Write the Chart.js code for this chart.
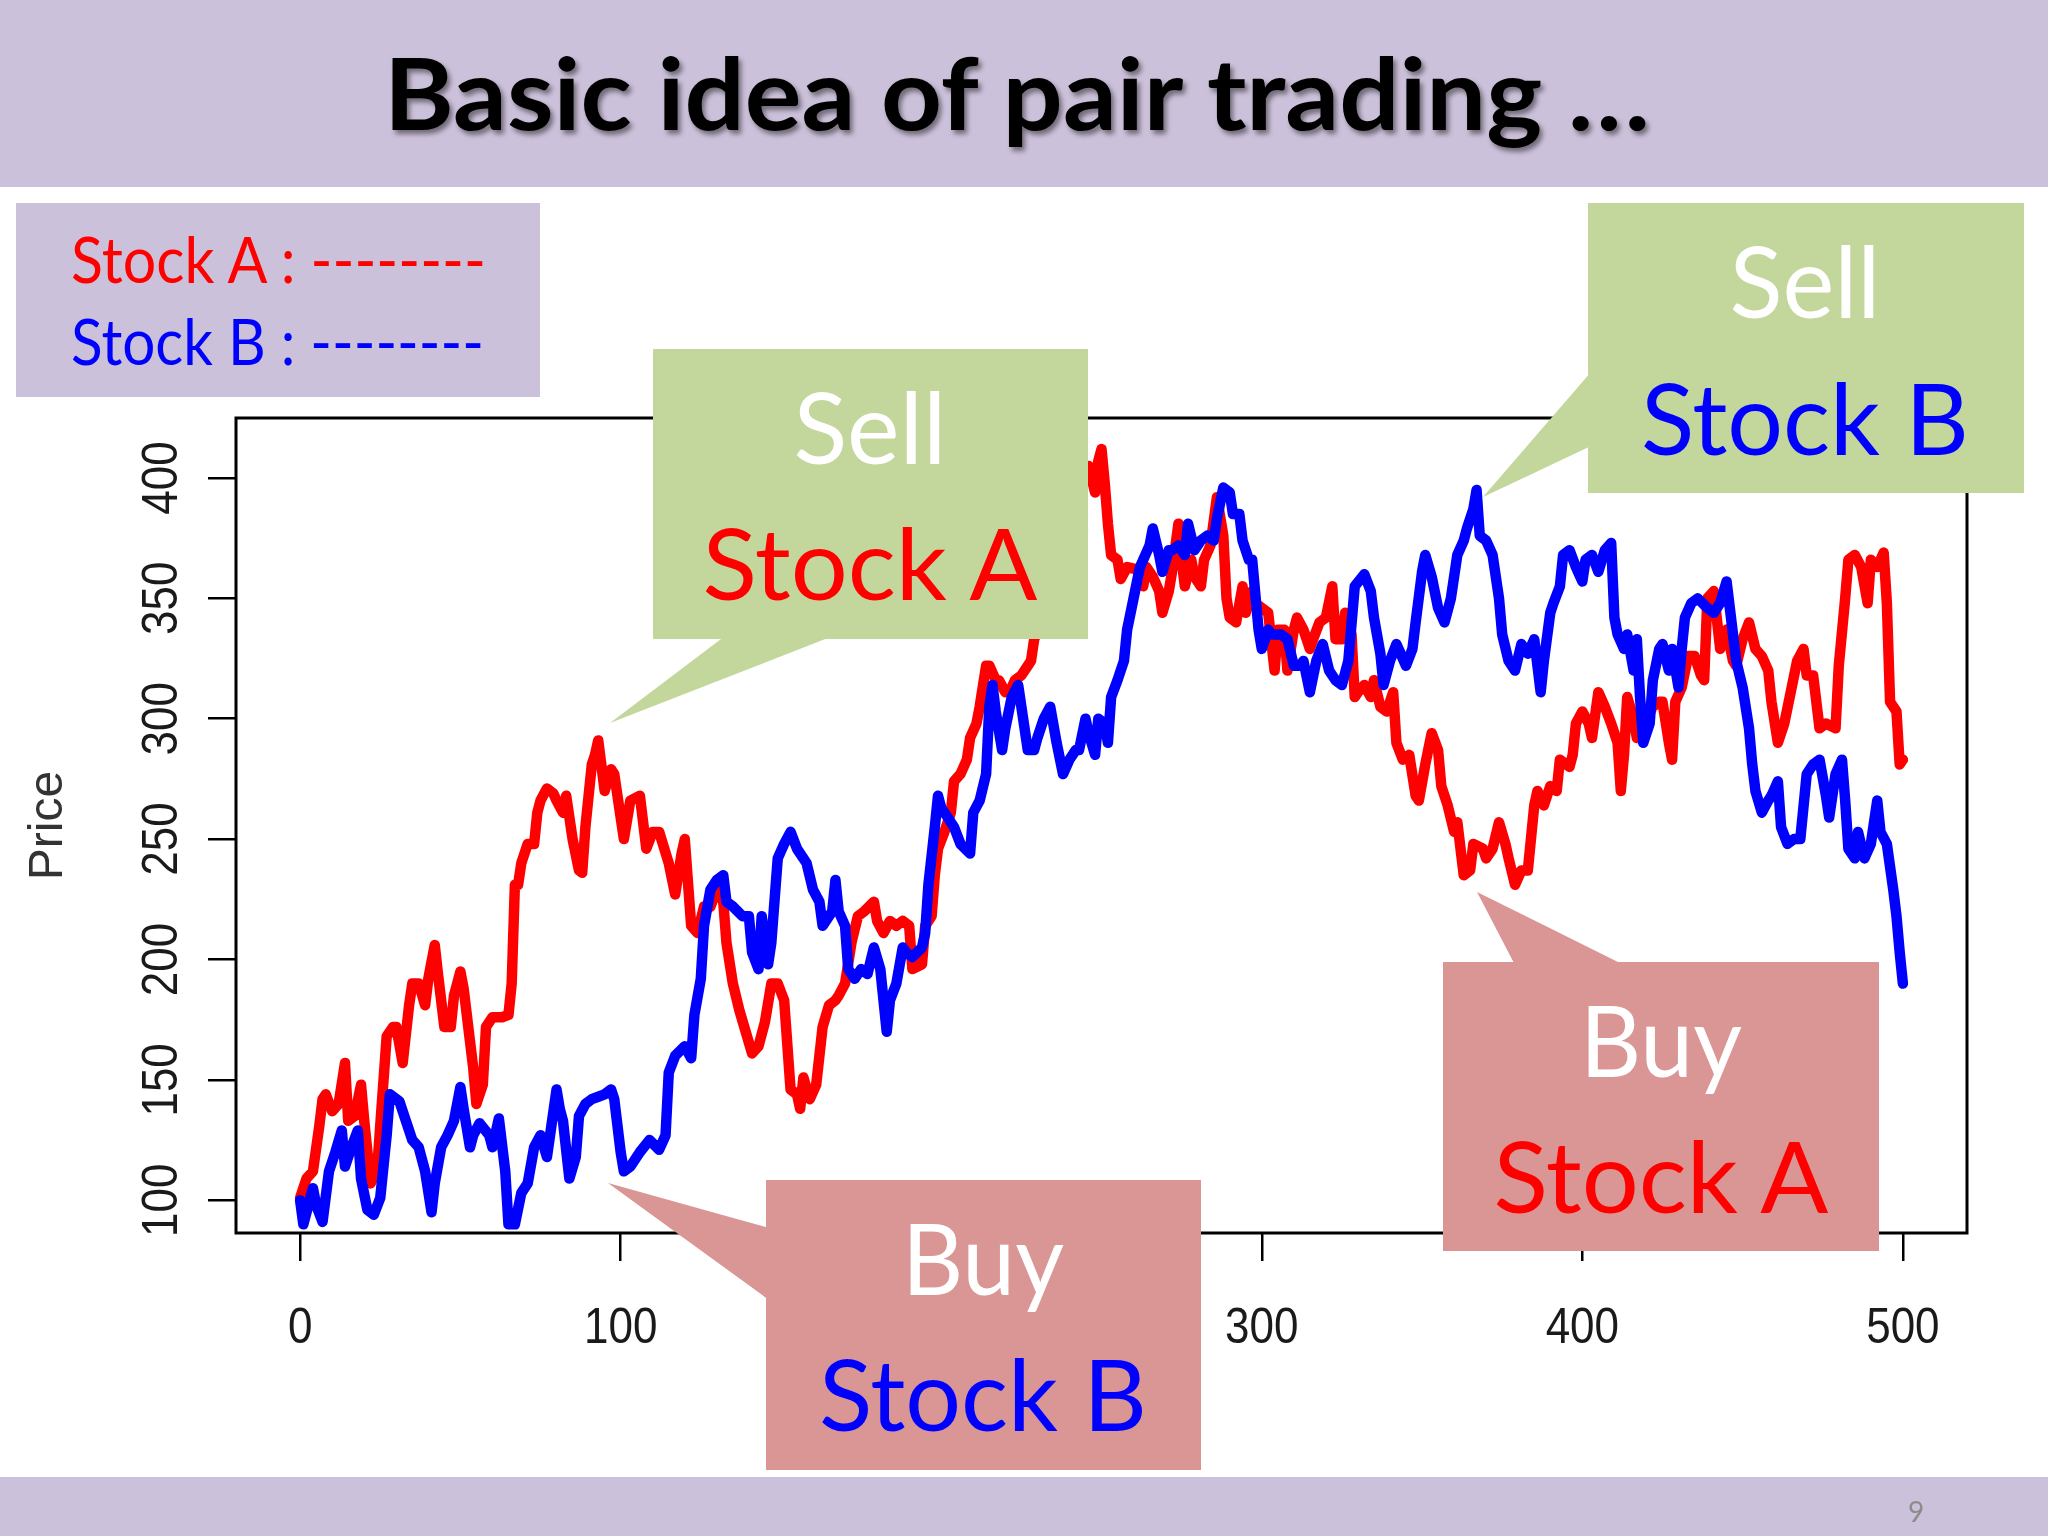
<!DOCTYPE html>
<html>
<head>
<meta charset="utf-8">
<title>Basic idea of pair trading</title>
<script src="https://cdn.jsdelivr.net/npm/chart.js@4.4.1/dist/chart.umd.min.js"></script>
<style>
  html, body { margin: 0; padding: 0; background: #fff; }
  #slide { position: relative; width: 2048px; height: 1536px; overflow: hidden; background: #fff; }
  #chart { position: absolute; left: 0; top: 0; }
  #overlay { position: absolute; left: 0; top: 0; pointer-events: none; }
  .cj { font-family: Lato, "Open Sans", sans-serif; }
</style>
</head>
<body>
<div id="slide">
  <canvas id="chart" width="2048" height="1536"></canvas>

  <svg id="overlay" class="cj" width="2048" height="1536" xmlns="http://www.w3.org/2000/svg">
    <defs>
      <filter id="shadow" x="-5%" y="-30%" width="110%" height="160%">
        <feDropShadow dx="3" dy="4" stdDeviation="2.5" flood-color="#000" flood-opacity="0.45"/>
      </filter>
    </defs>

    <!-- title band + footer band -->
    <rect x="0" y="0" width="2048" height="187" fill="#CCC1DA"/>
    <text x="1017" y="130" text-anchor="middle" font-weight="700" font-size="100"
          textLength="1266" lengthAdjust="spacingAndGlyphs" fill="#000" filter="url(#shadow)">Basic idea of pair trading …</text>
    <rect x="0" y="1477" width="2048" height="59" fill="#CCC1DA"/>
    <text x="1916" y="1522" text-anchor="middle" font-size="28" fill="#8C8C8C">9</text>

    <!-- legend box -->
    <rect x="16" y="203" width="524" height="194" fill="#CCC1DA"/>
    <text x="71" y="283" font-size="63" fill="#FF0000" textLength="415" lengthAdjust="spacingAndGlyphs">Stock A : --------</text>
    <text x="71" y="365" font-size="63" fill="#0000FF" textLength="413" lengthAdjust="spacingAndGlyphs">Stock B : --------</text>

    <!-- Sell Stock A -->
    <polygon points="725,636 833,636 610,723" fill="#C3D69B"/>
    <rect x="653" y="349" width="435" height="290" fill="#C3D69B"/>
    <text x="870" y="464" text-anchor="middle" font-size="98" fill="#FFFFFF" textLength="153" lengthAdjust="spacingAndGlyphs">Sell</text>
    <text x="870" y="600" text-anchor="middle" font-size="98" fill="#FF0000" textLength="335" lengthAdjust="spacingAndGlyphs">Stock A</text>

    <!-- Sell Stock B -->
    <polygon points="1591,372 1591,446 1483,497" fill="#C3D69B"/>
    <rect x="1588" y="203" width="436" height="290" fill="#C3D69B"/>
    <text x="1805" y="318" text-anchor="middle" font-size="98" fill="#FFFFFF" textLength="151" lengthAdjust="spacingAndGlyphs">Sell</text>
    <text x="1805" y="455" text-anchor="middle" font-size="98" fill="#0000FF" textLength="328" lengthAdjust="spacingAndGlyphs">Stock B</text>

    <!-- Buy Stock A -->
    <polygon points="1515,965 1624,965 1477,892" fill="#D99694"/>
    <rect x="1443" y="962" width="436" height="289" fill="#D99694"/>
    <text x="1661" y="1077" text-anchor="middle" font-size="98" fill="#FFFFFF" textLength="162" lengthAdjust="spacingAndGlyphs">Buy</text>
    <text x="1661" y="1213" text-anchor="middle" font-size="98" fill="#FF0000" textLength="335" lengthAdjust="spacingAndGlyphs">Stock A</text>

    <!-- Buy Stock B -->
    <polygon points="769,1228 769,1300 608,1183" fill="#D99694"/>
    <rect x="766" y="1180" width="435" height="290" fill="#D99694"/>
    <text x="983" y="1295" text-anchor="middle" font-size="98" fill="#FFFFFF" textLength="162" lengthAdjust="spacingAndGlyphs">Buy</text>
    <text x="983" y="1431" text-anchor="middle" font-size="98" fill="#0000FF" textLength="328" lengthAdjust="spacingAndGlyphs">Stock B</text>
  </svg>
</div>

<script>
// axis ticks
const xTicks = [0, 100, 200, 300, 400, 500];
const yTicks = [100, 150, 200, 250, 300, 350, 400];

// [time step, price]
const stockA = [
  [0,101],[1,105],[2,109],[4,112],[6,131],[7,142],[8,144],[10,137],[12,140],[14,157],[15,133],[17,135],
  [19,148],[20,133],[22,107],[24,112],[25,131],[27,168],[29,172],[30,172],[32,157],[34,181],[35,190],
  [37,190],[39,181],[40,192],[42,206],[43,194],[45,172],[47,172],[48,185],[50,195],[51,188],[53,166],
  [54,155],[55,140],[57,148],[58,172],[60,176],[63,176],[65,177],[66,190],[67,231],[68,231],[69,240],
  [71,248],[73,248],[74,261],[75,266],[77,271],[79,269],[80,266],[82,261],[83,268],[85,250],[87,237],
  [88,236],[89,255],[91,281],[92,285],[93,291],[95,270],[97,279],[98,277],[99,268],[101,250],[103,266],
  [106,268],[108,246],[110,253],[112,253],[115,240],[117,227],[119,244],[120,250],[122,214],[124,211],
  [126,222],[128,222],[130,229],[132,224],[133,207],[135,190],[137,179],[139,170],[141,161],[143,164],
  [145,174],[147,190],[149,190],[151,183],[153,146],[155,144],[156,138],[157,151],[159,142],[161,148],
  [163,172],[165,181],[167,183],[168,185],[170,190],[172,207],[174,218],[176,220],[179,224],[180,216],
  [182,211],[184,216],[186,214],[188,216],[190,214],[191,196],[194,198],[195,214],[197,218],[198,235],
  [199,246],[201,253],[203,261],[204,274],[206,277],[208,283],[209,292],[211,298],[212,305],[214,322],
  [215,322],[217,316],[218,316],[220,311],[222,313],[223,316],[225,318],[227,322],[228,324],[229,333],
  [231,340],[233,336],[235,349],[237,358],[239,352],[241,371],[243,385],[244,398],[246,405],[248,394],
  [249,407],[250,412],[251,398],[252,381],[253,368],[255,366],[256,358],[258,363],[261,362],[263,355],
  [264,363],[266,359],[268,353],[269,344],[271,353],[272,361],[274,381],[275,366],[276,355],[278,366],
  [279,359],[281,355],[282,366],[284,372],[286,392],[288,376],[289,350],[290,342],[292,340],[294,355],
  [295,344],[297,353],[298,348],[300,346],[302,344],[304,320],[305,337],[307,337],[308,320],[310,337],
  [311,342],[313,337],[315,329],[316,333],[318,340],[320,342],[322,355],[323,333],[325,333],[326,344],
  [328,335],[329,309],[330,311],[332,314],[334,309],[335,316],[337,305],[339,303],[341,311],[342,290],
  [344,283],[346,285],[348,268],[349,266],[351,281],[353,294],[355,287],[356,272],[358,264],[360,253],
  [361,257],[363,235],[365,237],[366,248],[369,246],[370,242],[372,246],[374,257],[376,248],[377,242],
  [379,231],[381,237],[383,237],[385,264],[386,270],[388,264],[390,272],[392,270],[393,283],[396,280],
  [397,285],[398,298],[400,303],[402,298],[403,292],[405,311],[407,305],[409,298],[411,290],[412,270],
  [413,285],[414,309],[416,300],[417,292],[419,294],[420,300],[422,305],[424,307],[425,307],[427,290],
  [428,283],[429,307],[431,313],[433,326],[435,326],[437,318],[438,316],[439,350],[441,353],[443,329],
  [445,337],[447,324],[448,322],[450,333],[452,340],[454,329],[456,326],[458,320],[459,307],[461,290],
  [463,298],[465,311],[467,324],[469,329],[470,318],[472,318],[474,296],[476,298],[479,296],[480,322],
  [482,350],[483,366],[485,368],[487,363],[489,348],[490,366],[492,363],[494,369],[495,348],[496,307],
  [498,303],[499,281],[500,283]
];

const stockB = [
  [0,100],[1,90],[4,105],[5,98],[7,91],[9,112],[11,120],[13,129],[14,114],[16,122],[18,129],[19,109],
  [21,96],[23,94],[25,101],[27,127],[28,144],[31,141],[33,133],[35,125],[37,122],[39,112],[41,95],
  [42,107],[44,122],[46,127],[48,133],[50,147],[51,138],[53,122],[54,127],[56,132],[59,127],[60,122],
  [62,134],[64,112],[65,90],[67,90],[69,103],[71,107],[73,122],[75,127],[77,118],[80,146],[81,138],
  [82,133],[84,109],[86,118],[87,135],[89,140],[91,142],[93,143],[95,144],[97,146],[98,142],[100,120],
  [101,112],[103,114],[106,120],[109,125],[112,121],[114,127],[115,153],[117,160],[120,164],[122,159],
  [123,177],[125,192],[126,214],[128,229],[130,233],[132,235],[133,224],[135,222],[138,218],[140,218],
  [141,203],[143,196],[144,218],[146,198],[147,207],[149,242],[151,248],[153,253],[155,246],[158,240],
  [160,229],[162,224],[163,214],[166,220],[167,233],[168,220],[170,214],[171,196],[173,192],[175,196],
  [177,194],[179,205],[181,196],[183,170],[184,183],[186,190],[188,205],[189,203],[191,201],[194,205],
  [195,211],[196,231],[198,255],[199,268],[200,263],[202,259],[204,255],[206,248],[209,244],[210,261],
  [212,266],[214,277],[215,305],[216,314],[217,303],[219,287],[220,296],[222,309],[224,314],[225,305],
  [227,287],[229,287],[230,292],[232,300],[234,305],[236,290],[238,277],[240,283],[242,287],[243,287],
  [245,300],[246,294],[248,285],[249,300],[251,298],[252,290],[253,309],[255,316],[257,324],[258,337],
  [260,350],[262,363],[263,366],[265,372],[266,379],[268,368],[269,361],[271,370],[272,370],[274,372],
  [276,368],[277,381],[279,370],[281,374],[283,376],[285,374],[286,383],[288,396],[290,394],[291,385],
  [293,385],[294,374],[296,366],[297,366],[299,337],[300,329],[302,337],[303,335],[306,335],[308,333],
  [310,322],[312,322],[313,324],[315,311],[317,324],[319,331],[321,320],[323,316],[325,314],[327,324],
  [329,355],[332,360],[334,353],[335,342],[337,327],[338,314],[340,324],[342,331],[345,322],[347,329],
  [348,340],[350,361],[351,368],[353,359],[355,346],[357,340],[359,350],[361,368],[363,374],[364,379],
  [366,387],[367,395],[368,376],[370,374],[372,368],[374,350],[375,335],[377,324],[379,320],[381,331],
  [383,327],[385,333],[387,311],[388,324],[390,344],[391,348],[393,355],[394,368],[396,370],[398,363],
  [400,357],[401,366],[403,368],[405,361],[407,370],[409,373],[410,342],[411,335],[413,329],[414,335],
  [416,320],[417,333],[418,309],[419,290],[421,298],[422,316],[424,329],[425,331],[427,320],[428,329],
  [430,313],[431,329],[432,342],[434,348],[436,350],[439,346],[441,344],[443,348],[445,357],[447,335],
  [448,324],[450,313],[452,296],[453,281],[454,270],[456,261],[458,266],[459,268],[461,274],[462,255],
  [464,248],[466,250],[468,250],[470,277],[472,281],[474,283],[476,268],[477,259],[479,277],[481,283],
  [482,266],[483,246],[485,242],[486,253],[488,242],[490,248],[492,266],[493,253],[495,248],[497,229],
  [498,218],[499,203],[500,190]
];

function toPoints(series) {
    return series.map(([t, p]) => ({ x: t, y: p }));
}

// R style frame, tick labels and axis title
const rFrame = {
    id: 'rFrame',
    afterDraw(chart) {
        const { ctx, chartArea: a } = chart;
        const xs = chart.scales.x, ys = chart.scales.y;
        ctx.save();
        ctx.strokeStyle = '#000';
        ctx.lineWidth = 3;
        ctx.strokeRect(a.left, a.top, a.right - a.left, a.bottom - a.top);

        ctx.fillStyle = '#1a1a1a';
        ctx.font = '50px "Liberation Sans", Arial, sans-serif';
        ctx.textAlign = 'center';
        ctx.textBaseline = 'alphabetic';
        xTicks.forEach(v => {
            ctx.save();
            ctx.translate(xs.getPixelForValue(v), a.bottom + 110);
            ctx.scale(0.88, 1);
            ctx.fillText(String(v), 0, 0);
            ctx.restore();
        });
        yTicks.forEach(v => {
            ctx.save();
            ctx.translate(a.left - 59, ys.getPixelForValue(v));
            ctx.rotate(-Math.PI / 2);
            ctx.scale(0.88, 1);
            ctx.fillText(String(v), 0, 0);
            ctx.restore();
        });

        ctx.fillStyle = '#333';
        ctx.font = '48px "Liberation Sans", Arial, sans-serif';
        ctx.translate(62, (a.top + a.bottom) / 2);
        ctx.rotate(-Math.PI / 2);
        ctx.fillText('Price', 0, 0);
        ctx.restore();
    }
};

new Chart(document.getElementById('chart'), {
    type: 'line',
    data: {
        datasets: [
            {
                label: 'Stock B',
                data: toPoints(stockB),
                borderColor: '#0000FF',
                borderWidth: 10.5,
                order: 0
            },
            {
                label: 'Stock A',
                data: toPoints(stockA),
                borderColor: '#FF0000',
                borderWidth: 10.5,
                order: 1
            }
        ]
    },
    options: {
        responsive: false,
        animation: false,
        layout: {
            padding: { left: 0, top: 418, right: 81, bottom: 0 }
        },
        elements: {
            point: { radius: 0 },
            line: { tension: 0, borderJoinStyle: 'round', borderCapStyle: 'round', fill: false }
        },
        plugins: {
            legend: { display: false },
            tooltip: { enabled: false }
        },
        events: [],
        scales: {
            x: {
                type: 'linear',
                min: -20,
                max: 520,
                afterBuildTicks: s => { s.ticks = xTicks.map(v => ({ value: v })); },
                afterFit: s => { s.height = 303; },
                ticks: { display: false },
                grid: { drawOnChartArea: false, drawTicks: true, tickLength: 28, color: '#000', lineWidth: 2.5 },
                border: { display: false }
            },
            y: {
                type: 'linear',
                min: 86.4,
                max: 424.9,
                afterBuildTicks: s => { s.ticks = yTicks.map(v => ({ value: v })); },
                afterFit: s => { s.width = 236; },
                ticks: { display: false },
                grid: { drawOnChartArea: false, drawTicks: true, tickLength: 28, color: '#000', lineWidth: 2.5 },
                border: { display: false }
            }
        }
    },
    plugins: [rFrame]
});
</script>
</body>
</html>
